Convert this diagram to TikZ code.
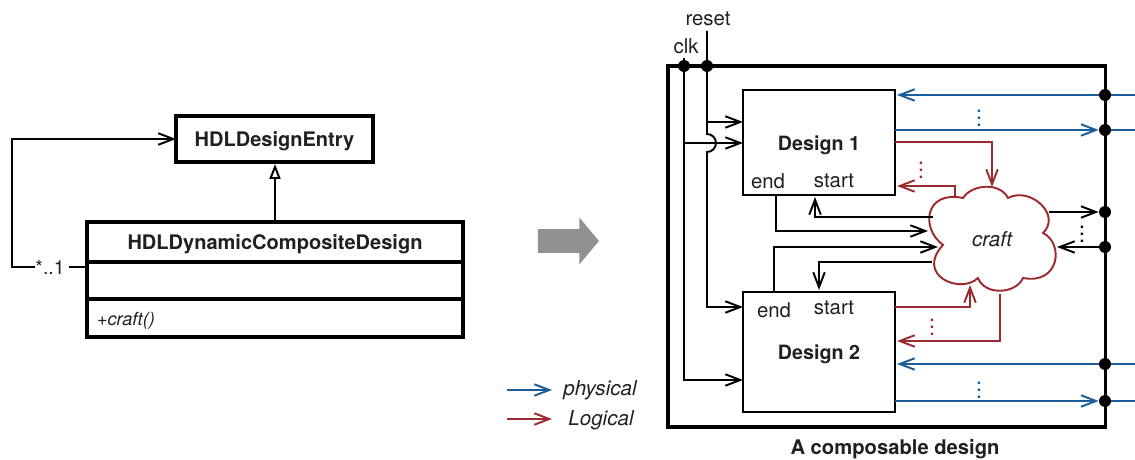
\documentclass[tikz,border=0pt]{standalone}
\usepackage{fontspec}
\setmainfont{TeX Gyre Heros}
\usetikzlibrary{arrows.meta,shapes.arrows,shadows}
\definecolor{inkblack}{HTML}{231F20}
\definecolor{physblue}{HTML}{1B5C9A}
\definecolor{logicred}{HTML}{9C2A2E}
\tikzset{
    label/.style={font=\fontsize{11.6}{13}\selectfont, text=inkblack},
    italiclabel/.style={font=\fontsize{11.7}{13}\itshape\selectfont, text=inkblack},
    title/.style={font=\fontsize{11.4}{13}\bfseries\selectfont, text=inkblack},
    umlbox/.style={draw, fill=white, line width=1.9pt, outer sep=0pt, title, text height=0.29cm, text depth=0cm,
        drop shadow={shadow xshift=0pt, shadow yshift=-1pt, opacity=0.3, fill=gray}},
    designbox/.style={draw, line width=1.1pt, outer sep=0pt, minimum width=3.04cm, title,
        font=\fontsize{11.2}{13}\bfseries\selectfont, text height=0.32cm, text depth=0cm},
    pin/.style={circle, fill=black, inner sep=0pt, minimum size=0.24cm},
    vdotslabel/.style={inner sep=0pt, font=\fontsize{13}{15}\selectfont},
    sig/.style={line width=1.1pt, -{Straight Barb[length=3mm,width=2.3mm]}},
    phys/.style={sig, draw=physblue},
    logic/.style={sig, draw=logicred},
}
\begin{document}
\begin{tikzpicture}
    \useasboundingbox (0,0) rectangle (22.7,9.18);

    % UML classes
    \node[umlbox, minimum width=3.94cm, minimum height=0.92cm] (entry) at (5.49,6.40) {HDLDesignEntry};
    \node[umlbox, minimum width=7.52cm, minimum height=0.80cm] (dynamic) at (5.50,4.34) {HDLDynamicCompositeDesign};
    \node[umlbox, minimum width=7.52cm, minimum height=0.74cm] (fields) at (5.50,3.57) {};
    \node[umlbox, minimum width=7.52cm, minimum height=0.76cm, inner xsep=0.2cm, text width=7.12cm,
        font=\fontsize{10.3}{12}\itshape\selectfont] (methods) at (5.50,2.82) {+craft()};
    \node[label, font=\fontsize{11}{12}\selectfont, inner xsep=0pt] (mult) at (1.00,3.84) {*..1};

    % UML arrows
    \draw[line width=1.1pt, shorten <=0.09cm] (mult.east) -- (mult.east -| fields.west);
    \draw[sig] (mult.west) -- ++(-0.47,0) |- (entry.west);
    \draw[line width=1.1pt, shorten >=0.04cm, -{Triangle[open, fill=white, length=3mm, width=2.2mm]}] (dynamic.north) -- (dynamic.north |- entry.south);

    % Big arrow
    \node[single arrow, fill=black!43!white, draw=none, inner xsep=0pt, inner ysep=0.23cm, minimum height=1.22cm, minimum width=0.9cm,
        single arrow head extend=0.23cm, single arrow head indent=0cm, single arrow tip angle=100] (bigarrow) at (11.27,4.36) {};

    % Legend
    \node[italiclabel] (physical) at (12.00,1.38) {physical};
    \node[italiclabel] (logical) at (12.02,0.78) {Logical};
    \coordinate (physstart) at (10.14,1.38);
    \coordinate (physend) at (11.04,1.38);
    \coordinate (logicstart) at (10.14,0.80);
    \coordinate (logicend) at (11.04,0.80);
    \draw[phys] (physstart) -- (physend);
    \draw[logic] (logicstart) -- (logicend);

    % Composable design
    \node[draw, line width=1.9pt, outer sep=0pt, minimum width=8.75cm, minimum height=7.22cm] (outer) at (17.735,4.25) {};
    \node[title, font=\fontsize{11.5}{13}\bfseries\selectfont] (caption) at (17.90,0.19) {A composable design};
    \node[designbox, minimum height=2.10cm] (design1) at (16.38,6.33) {Design 1};
    \node[designbox, minimum height=2.40cm] (design2) at (16.38,2.14) {Design 2};

    % Cloud
    \draw[logicred, line width=1.1pt, fill=white] (19.26,5.22)
        .. controls (19.44,5.50) and (20.00,5.54) .. (20.16,5.22)
        .. controls (20.60,5.46) and (21.24,4.88) .. (20.86,4.52)
        .. controls (21.28,4.32) and (21.20,3.48) .. (20.46,3.62)
        .. controls (20.32,3.30) and (19.70,3.26) .. (19.56,3.62)
        .. controls (19.20,3.28) and (18.30,3.68) .. (18.86,4.28)
        .. controls (18.40,4.62) and (18.50,5.38) .. (19.26,5.22) -- cycle;
    \node[italiclabel] (craft) at (19.84,4.40) {craft};

    % Labels
    \node[label] (clk) at (13.72,8.26) {clk};
    \node[label] (reset) at (14.16,8.80) {reset};
    \node[label] (end1) at (15.36,5.56) {end};
    \node[label] (start1) at (16.68,5.56) {start};
    \node[label] (end2) at (15.48,2.98) {end};
    \node[label] (start2) at (16.68,3.02) {start};

    % Pins
    \node[pin] (clkdot) at (13.68,7.86) {};
    \node[pin] (resetdot) at (14.14,7.86) {};
    \foreach \name/\y in {pin1/7.28, pin2/6.58, pin3/4.94, pin4/4.24, pin5/1.90, pin6/1.16} {
        \node[pin] (\name) at (22.10,\y) {};
    }

    % Free ends
    \coordinate (clktop) at (13.68,8.02);
    \coordinate (resettop) at (14.14,8.56);
    \coordinate (jump) at (14.14,6.50);
    \coordinate (d1rst) at (14.86,6.74);
    \coordinate (d1clk) at (14.86,6.32);
    \coordinate (d2rst) at (14.86,3.04);
    \coordinate (d2clk) at (14.86,1.58);
    \coordinate (d1end) at (15.52,5.28);
    \coordinate (d1start) at (16.30,5.24);
    \coordinate (d2end) at (15.48,3.34);
    \coordinate (d2start) at (16.38,3.38);
    \coordinate (d1redout) at (17.90,6.34);
    \coordinate (d1redin) at (17.94,5.46);
    \coordinate (d2redout) at (17.90,3.04);
    \coordinate (d2redin) at (17.94,2.36);
    \coordinate (cloudredin1) at (19.84,5.44);
    \coordinate (cloudredout1) at (19.10,5.22);
    \coordinate (cloudredin2) at (19.40,3.48);
    \coordinate (cloudredout2) at (20.00,3.30);
    \coordinate (cloudin1) at (18.56,4.56);
    \coordinate (cloudin2) at (18.76,4.24);
    \coordinate (cloudin3) at (21.14,4.24);
    \coordinate (cloudout1) at (18.66,4.84);
    \coordinate (cloudout2) at (18.64,3.94);
    \coordinate (cloudout3) at (20.98,4.94);
    \foreach \name/\y in {out1/7.28, out2/6.58, out5/1.90, out6/1.16} {
        \coordinate (\name) at (22.70,\y);
    }

    % Clock and reset
    \draw[line width=1.1pt] (clktop) -- (clkdot);
    \draw[sig] (clkdot) |- (d2clk);
    \draw[sig] (resettop) -- (jump) arc (90:-90:0.18) |- (d2rst);
    \draw[sig] (resettop |- d1rst) -- (d1rst);
    \draw[sig] (clkdot |- d1clk) -- (d1clk);

    % Physical
    \draw[phys, shorten >=0.04cm] (out1) -- (pin1) -- (design1.east |- pin1);
    \draw[phys] (design1.east |- pin2) -- (pin2);
    \draw[physblue, line width=1.1pt] (pin2) -- (out2);
    \draw[phys, shorten >=0.04cm] (out5) -- (pin5) -- (design2.east |- pin5);
    \draw[phys] (design2.east |- pin6) -- (pin6);
    \draw[physblue, line width=1.1pt] (pin6) -- (out6);

    % Logical
    \draw[logic] (d1redout) -| (cloudredin1);
    \draw[logic] (cloudredout1) |- (d1redin);
    \draw[logic] (d2redout) -| (cloudredin2);
    \draw[logic] (cloudredout2) |- (d2redin);

    % Design to cloud
    \draw[sig] (d1end) |- (cloudin1);
    \draw[sig] (cloudout1) -| (d1start);
    \draw[sig] (d2end) |- (cloudin2);
    \draw[sig] (cloudout2) -| (d2start);
    \draw[sig] (cloudout3) -- (pin3);
    \draw[sig] (pin4) -- (cloudin3);

    % Dots
    \node[vdotslabel, text=physblue] (dots1) at (19.58,6.91) {$\vdots$};
    \node[vdotslabel, text=logicred] (dots2) at (18.42,5.88) {$\vdots$};
    \node[vdotslabel, text=black] (dots3) at (21.64,4.60) {$\vdots$};
    \node[vdotslabel, text=logicred] (dots4) at (18.64,2.74) {$\vdots$};
    \node[vdotslabel, text=physblue] (dots5) at (19.58,1.48) {$\vdots$};
\end{tikzpicture}
\end{document}
